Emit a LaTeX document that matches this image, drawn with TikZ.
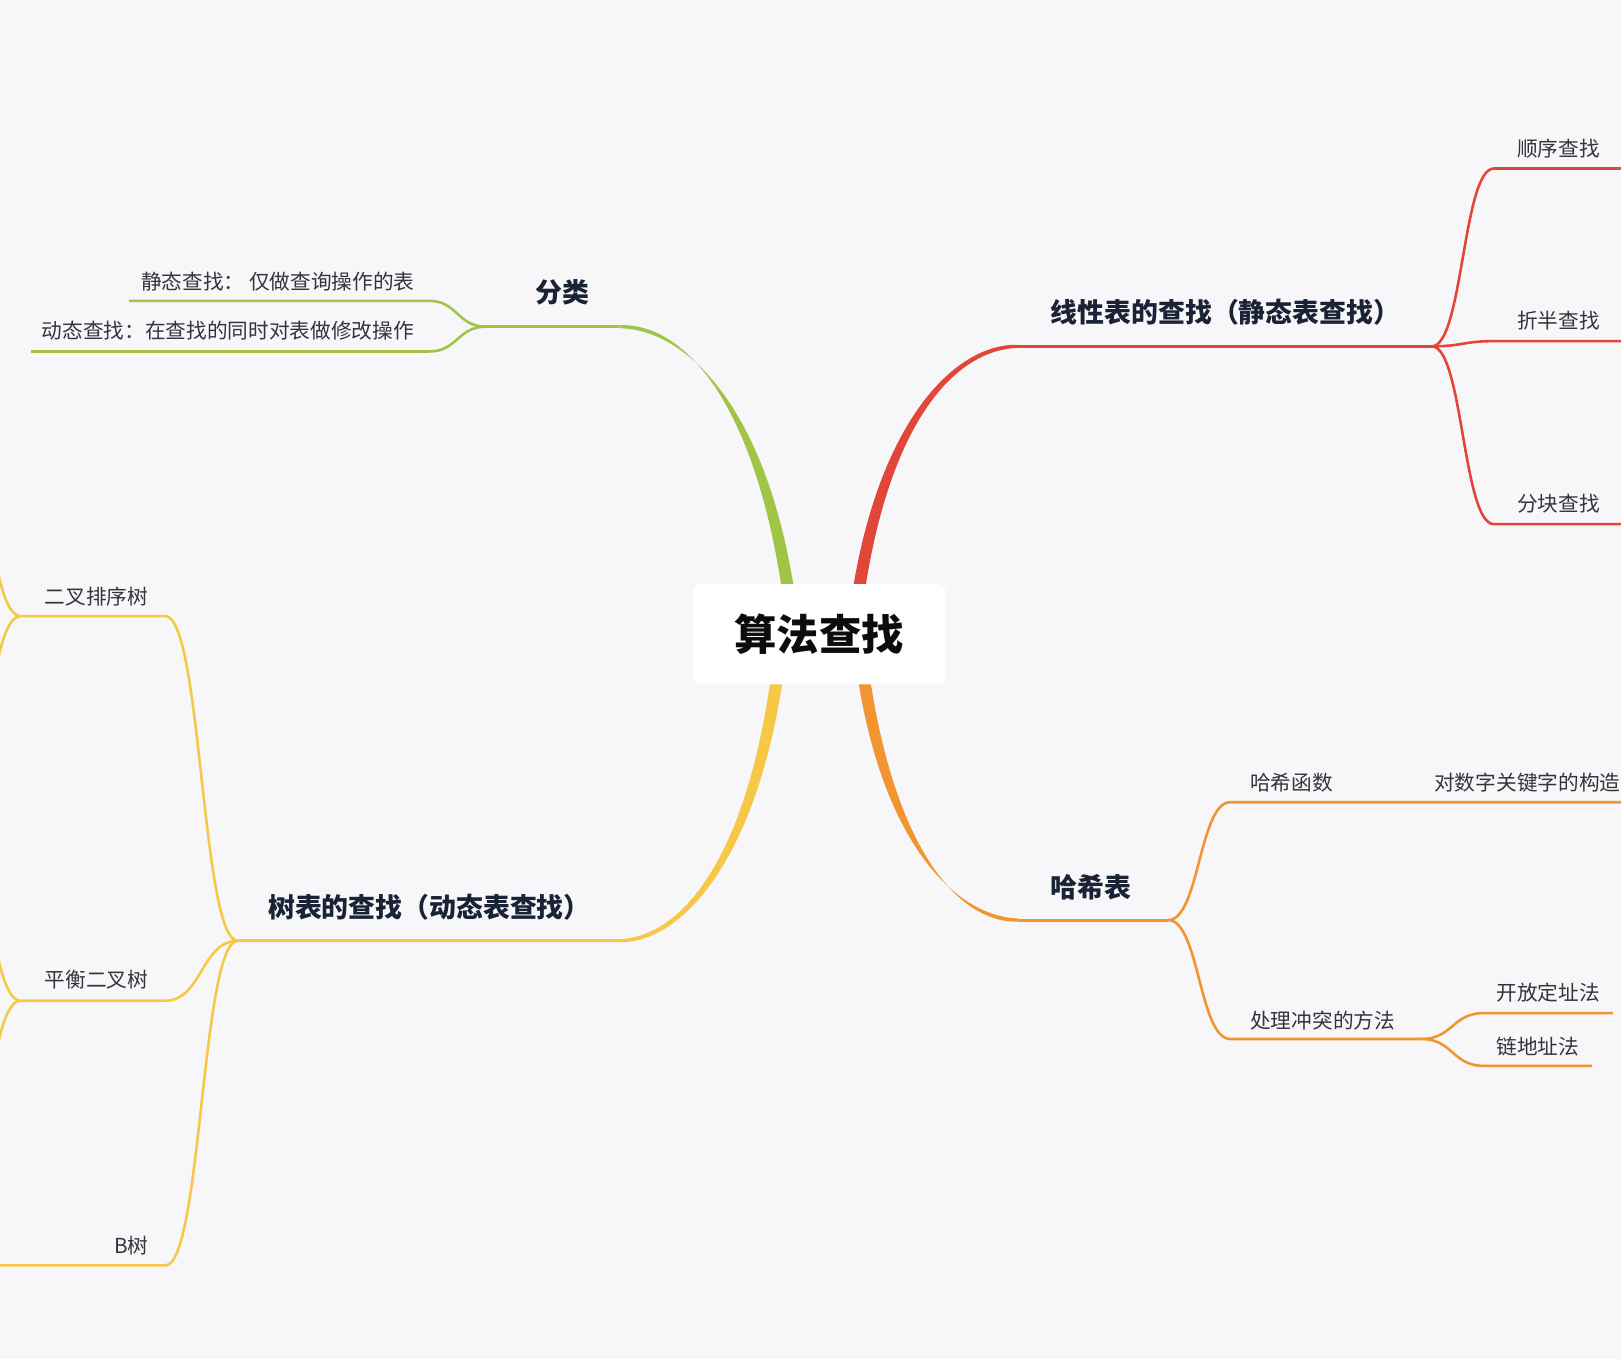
\documentclass[tikz,border=0pt]{standalone}
\usepackage{fontspec}
\setmainfont{Noto Sans CJK SC}
\usetikzlibrary{positioning, calc, backgrounds}
\definecolor{pagebg}{RGB}{247, 247, 250}
\definecolor{rootink}{RGB}{12, 12, 14}
\definecolor{headnavy}{RGB}{26, 34, 53}
\definecolor{leafgray}{RGB}{52, 52, 58}
\definecolor{brgreen}{RGB}{160, 196, 70}
\definecolor{brred}{RGB}{226, 70, 56}
\definecolor{brorange}{RGB}{242, 148, 48}
\definecolor{bryellow}{RGB}{247, 200, 70}
\tikzset{
  root/.style={rounded corners=4pt, fill=white, text=rootink,
               minimum width=122.5pt, minimum height=48.5pt,
               font=\bfseries\fontsize{20.5}{24}\selectfont},
  topic/.style={anchor=west, inner sep=0pt, text=headnavy,
                font=\bfseries\fontsize{13}{15}\selectfont},
  leaf/.style={anchor=west, inner sep=0pt, text=leafgray,
               font=\fontsize{10}{12}\selectfont},
  uline/.style={draw=#1, line width=1.5pt},
  twig/.style={draw=#1, line width=1.25pt},
  sbend/.style={to path={let \p1=(\tikztostart), \p2=(\tikztotarget) in
      .. controls ({0.5*\x1+0.5*\x2},\y1) and ({0.5*\x1+0.5*\x2},\y2) .. (\tikztotarget)}},
}
% thick tapering branch out of the root
\newcommand{\mainbranch}[3]{%
  \fill[#1] let \p1=(#2), \p2=(#3) in
    ({\x1-3pt},\y1) .. controls ({\x1+0.15*(\x2-\x1)-2.8pt},{\y1+0.7*(\y2-\y1)})
      and ({\x1+0.6*(\x2-\x1)},{\y2+1.6pt}) .. ({\x2},{\y2+0.75pt})
    -- ({\x2},{\y2-0.75pt}) .. controls ({\x1+0.6*(\x2-\x1)},{\y2-1.6pt})
      and ({\x1+0.15*(\x2-\x1)+2.8pt},{\y1+0.7*(\y2-\y1)}) .. ({\x1+3pt},\y1) -- cycle;}

\begin{document}
\begin{tikzpicture}[x=0.5pt, y=-0.5pt]
  \useasboundingbox (0,0) rectangle (1568,1315);
  \begin{scope}[on background layer]
    \fill[pagebg] (0,0) rectangle (1568,1315);
  \end{scope}

  \node[root] (root) at (792.5,613.5) {算法查找};
  \coordinate (sGreen) at (765,590);
  \coordinate (sRed) at (828,590);
  \coordinate (sYellow) at (754,637);
  \coordinate (sOrange) at (833,637);

  % 分类
  \node[topic] (fenlei) at (518,283) {分类};
  \coordinate (flL) at (470,316); \coordinate (flR) at (600,316);
  \node[leaf] (jingtai) at (136,272) {静态查找： 仅做查询操作的表};
  \coordinate (jtL) at (125,291); \coordinate (jtR) at (415,291);
  \node[leaf] (dongtai) at (40,320) {动态查找：在查找的同时对表做修改操作};
  \coordinate (dtL) at (30,340); \coordinate (dtR) at (415,340);
  \draw[uline=brgreen] (flL) -- (flR);
  \draw[twig=brgreen] (jtL) -- (jtR) to[sbend] (flL);
  \draw[twig=brgreen] (dtL) -- (dtR) to[sbend] (flL);

  % 线性表的查找
  \node[topic] (xianxing) at (1016,302) {线性表的查找（静态表查找）};
  \coordinate (xxL) at (985,335); \coordinate (xxR) at (1385,335);
  \node[leaf] (shunxu) at (1467,144) {顺序查找};
  \coordinate (sxL) at (1445,163); \coordinate (sxR) at (1600,163);
  \node[leaf] (zheban) at (1467,310) {折半查找};
  \coordinate (zbL) at (1445,330); \coordinate (zbR) at (1600,330);
  \node[leaf] (fenkuai) at (1467,487) {分块查找};
  \coordinate (fkL) at (1445,507); \coordinate (fkR) at (1600,507);
  \draw[uline=brred] (xxL) -- (xxR);
  \draw[twig=brred] (xxR) to[sbend] (sxL) -- (sxR);
  \draw[twig=brred] (xxR) to[sbend] (zbL) -- (zbR);
  \draw[twig=brred] (xxR) to[sbend] (fkL) -- (fkR);

  % 哈希表
  \node[topic] (haxi) at (1016,858) {哈希表};
  \coordinate (hxL) at (985,890); \coordinate (hxR) at (1130,890);
  \node[leaf] (hanshu) at (1209,757) {哈希函数};
  \coordinate (hsL) at (1190,776); \coordinate (hsR) at (1375,776);
  \node[leaf] (gouzao) at (1387,757) {对数字关键字的构造};
  \coordinate (gzR) at (1600,776);
  \node[leaf] (chongtu) at (1209,987) {处理冲突的方法};
  \coordinate (ctL) at (1190,1005); \coordinate (ctR) at (1375,1005);
  \node[leaf] (kaifang) at (1447,960) {开放定址法};
  \coordinate (kfL) at (1435,980); \coordinate (kfR) at (1560,980);
  \node[leaf] (lianlu) at (1447,1012) {链地址法};
  \coordinate (llL) at (1435,1031); \coordinate (llR) at (1540,1031);
  \draw[uline=brorange] (hxL) -- (hxR);
  \draw[twig=brorange] (hxR) to[sbend] (hsL) -- (hsR) -- (gzR);
  \draw[twig=brorange] (hxR) to[sbend] (ctL) -- (ctR);
  \draw[twig=brorange] (ctR) to[sbend] (kfL) -- (kfR);
  \draw[twig=brorange] (ctR) to[sbend] (llL) -- (llR);

  % 树表的查找
  \node[topic] (shubiao) at (259,878) {树表的查找（动态表查找）};
  \coordinate (sbL) at (230,910); \coordinate (sbR) at (598,910);
  \node[leaf] (erchapx) at (43,577) {二叉排序树};
  \coordinate (epL) at (20,596); \coordinate (epR) at (160,596);
  \node[leaf] (pingheng) at (43,948) {平衡二叉树};
  \coordinate (phL) at (20,968); \coordinate (phR) at (160,968);
  \node[leaf] (bshu) at (110,1205) {B树};
  \coordinate (bsL) at (-20,1224); \coordinate (bsR) at (160,1224);
  \coordinate (epUp) at (-40,430); \coordinate (epDn) at (-40,760);
  \coordinate (phUp) at (-40,802); \coordinate (phDn) at (-40,1132);
  \draw[uline=bryellow] (sbL) -- (sbR);
  \draw[twig=bryellow] (epUp) to[sbend] (epL) -- (epR) to[sbend] (sbL);
  \draw[twig=bryellow] (epL) to[sbend] (epDn);
  \draw[twig=bryellow] (phUp) to[sbend] (phL) -- (phR) to[sbend] (sbL);
  \draw[twig=bryellow] (phL) to[sbend] (phDn);
  \draw[twig=bryellow] (bsL) -- (bsR) to[sbend] (sbL);

  \begin{scope}[on background layer]
    \mainbranch{brgreen}{sGreen}{flR}
    \mainbranch{brred}{sRed}{xxL}
    \mainbranch{bryellow}{sYellow}{sbR}
    \mainbranch{brorange}{sOrange}{hxL}
  \end{scope}
\end{tikzpicture}
\end{document}
